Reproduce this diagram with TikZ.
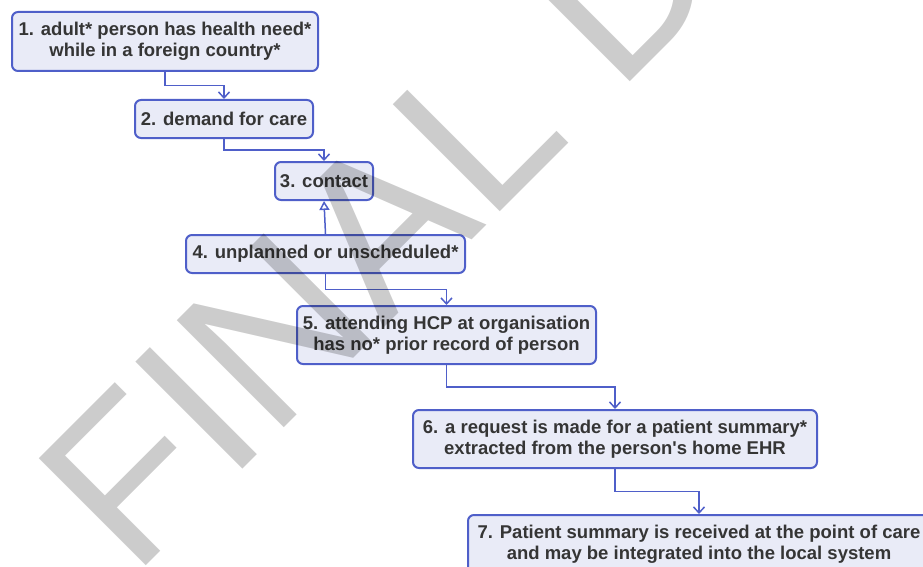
\documentclass[tikz,border=0pt]{standalone}
\usepackage{fontspec}
\setmainfont{Liberation Sans}
\usepackage{xcolor}
\definecolor{Care Blue}{HTML}{4F5FC9}
\definecolor{Pale Lavender}{HTML}{E9EBF7}
\definecolor{Ink Grey}{HTML}{353535}
\colorlet{cLine}{Care Blue}
\colorlet{cFill}{Pale Lavender}
\colorlet{cText}{Ink Grey}
\usetikzlibrary{calc, arrows.meta}
\tikzset{
	stage/.style={
		draw=cLine,
		fill=cFill,
		line width=2pt,
		rounded corners=6pt,
		inner sep=0pt,
		align=center,
		text=cText,
		font=\bfseries\fontsize{18.5}{21}\selectfont
	},
	flow/.style={
		draw=cLine,
		line width=1.5pt,
		-{Straight Barb[length=6pt, width=11pt]},
		to path={(\tikztostart) |- ($(\tikztostart)!.5!(\tikztotarget)$) -| (\tikztotarget) \tikztonodes}
	},
	feedback/.style={
		draw=cLine,
		line width=1.5pt,
		-{Triangle[open, length=9pt, width=10pt]}
	},
	watermark/.style={
		inner sep=0pt,
		text=black,
		text opacity=.2,
		font=\fontsize{220}{220}\selectfont
	}
}

\begin{document}
\begin{tikzpicture}[x=1pt, y=-1pt]
\clip (0,0) rectangle (923,567);

% ---
% Stages
% ---
\node[stage, minimum width=306pt, minimum height=59pt] (b1) at (165,41.5) {1. adult* person has health need*\\while in a foreign country*};
\node[stage, minimum width=178pt, minimum height=38pt] (b2) at (224,119) {2. demand for care};
\node[stage, minimum width=98pt, minimum height=38pt] (b3) at (324,181) {3. contact};
\node[stage, minimum width=279pt, minimum height=38pt] (b4) at (325.5,254) {4. unplanned or unscheduled*};
\node[stage, minimum width=299pt, minimum height=58pt] (b5) at (446.5,335) {5. attending HCP at organisation\\has no* prior record of person};
\node[stage, minimum width=404pt, minimum height=58pt] (b6) at (615,439) {6. a request is made for a patient summary*\\extracted from the person\textquotesingle s home EHR};
\node[stage, minimum width=462pt, minimum height=58pt] (b7) at (699,544) {7. Patient summary is received at the point of care\\and may be integrated into the local system};

% ---
% Transitions
% ---
\draw[flow] (b1.south) to (b2.north);
\draw[flow] (b2.south) to (b3.north);
\draw[feedback] (b4.north) -- (b3.south);
\draw[flow] (b4.south) to (b5.north);
\draw[flow] (b5.south) to (b6.north);
\draw[flow] (b6.south) to (b7.north);

% ---
% Watermark
% ---
\node[watermark, rotate=45, anchor=base west] (wm) at (133,579) {FINAL D};
\end{tikzpicture}
\end{document}
